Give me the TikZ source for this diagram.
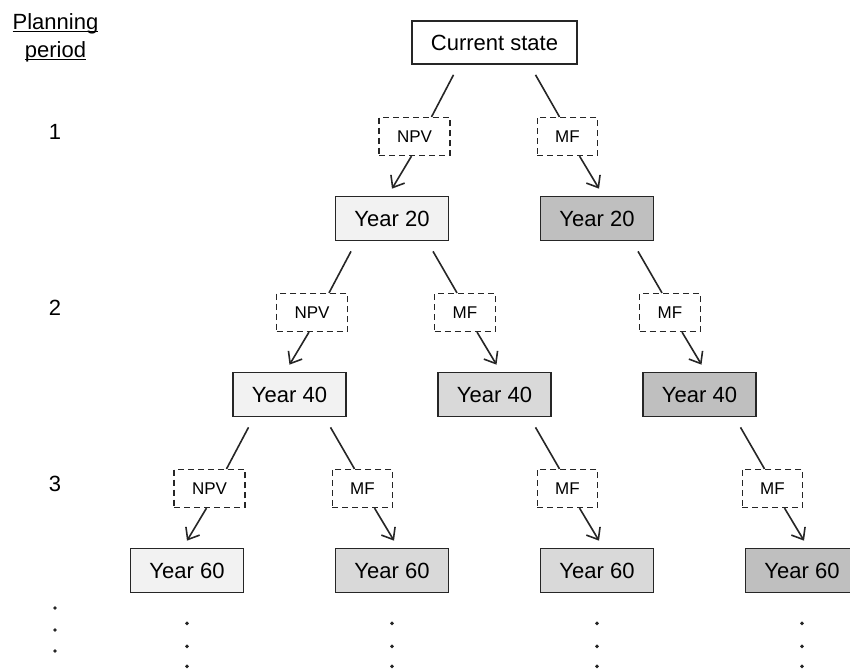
\documentclass[tikz,border=0pt]{standalone}
\usepackage{fontspec}
\setmainfont{Liberation Sans}
\usetikzlibrary{arrows.meta,positioning}
\definecolor{Pale}{HTML}{F2F2F2}
\definecolor{Mid}{HTML}{D9D9D9}
\definecolor{Dark}{HTML}{BFBFBF}
\definecolor{Ink}{HTML}{262626}
\newcommand\tightul[1]{\setbox0\hbox{#1}\rlap{\rule[-1.4pt]{\wd0}{0.7pt}}\box0}

\begin{document}
\begin{tikzpicture}[node distance=88pt and 51.25pt,on grid,
year/.style={draw=Ink,line width=0.85pt,minimum width=56.5pt,minimum height=22pt,inner sep=0pt,font=\fontsize{11}{13}\selectfont},
lbl/.style={draw=Ink,dash pattern=on 3pt off 2pt,line width=0.6pt,minimum height=19pt,inner xsep=9pt,inner ysep=0pt,font=\fontsize{8.5}{10}\selectfont},
ln/.style={draw=Ink,line width=0.8pt},
arr/.style={-{Straight Barb[length=5pt,width=8pt]},line width=0.8pt,draw=Ink},
dot/.style={fill=Ink}]
\useasboundingbox (0,0) rectangle (425pt,-335.5pt);
% planning periods
\node[align=center,font=\fontsize{11}{14}\selectfont] (plan) at (27.75pt,-19pt) {\tightul{Planning}\\\tightul{period}};
\node[font=\fontsize{11}{13}\selectfont] (p1) at (27.5pt,-66pt) {1};
\node[font=\fontsize{11}{13}\selectfont,below=of p1] (p2) {2};
\node[font=\fontsize{11}{13}\selectfont,below=of p2] (p3) {3};
% states
\node[year,minimum width=82.5pt,minimum height=21.5pt] (cur) at (247.25pt,-21.25pt) {Current state};
\node[year,fill=Pale,below left=of cur] (a1) {Year 20};
\node[year,fill=Dark,below right=of cur] (b1) {Year 20};
\node[year,fill=Pale,below left=of a1] (a2) {Year 40};
\node[year,fill=Mid,below right=of a1] (c2) {Year 40};
\node[year,fill=Dark,below right=of b1] (b2) {Year 40};
\node[year,fill=Pale,below left=of a2] (a3) {Year 60};
\node[year,fill=Mid,below right=of a2] (d3) {Year 60};
\node[year,fill=Mid,below right=of c2] (c3) {Year 60};
\node[year,fill=Dark,below right=of b2] (b3) {Year 60};
% management choices
\node[lbl,below left=47pt and 40pt of cur] (npv1) {NPV};
\node[lbl,below right=47pt and 36.5pt of cur] (mf1) {MF};
\node[lbl,below left=47pt and 40pt of a1] (npv2) {NPV};
\node[lbl,below right=47pt and 36.5pt of a1] (mf2) {MF};
\node[lbl,below right=47pt and 36.5pt of b1] (mf2b) {MF};
\node[lbl,below left=47pt and 40pt of a2] (npv3) {NPV};
\node[lbl,below right=47pt and 36.5pt of a2] (mf3) {MF};
\node[lbl,below right=47pt and 36.5pt of c2] (mf3c) {MF};
\node[lbl,below right=47pt and 36.5pt of b2] (mf3b) {MF};
% branches
\draw[ln] ([xshift=-20.5pt,yshift=-5pt]cur.south)--([xshift=8.5pt]npv1.north);
\draw[arr] ([xshift=-1.5pt]npv1.south)--([yshift=3.5pt]a1.north);
\draw[ln] ([xshift=20.5pt,yshift=-5pt]cur.south)--([xshift=-4pt]mf1.north);
\draw[arr] ([xshift=6pt]mf1.south)--([xshift=1pt,yshift=3.5pt]b1.north);
\draw[ln] ([xshift=-20.5pt,yshift=-5pt]a1.south)--([xshift=8.5pt]npv2.north);
\draw[arr] ([xshift=-1.5pt]npv2.south)--([yshift=3.5pt]a2.north);
\draw[ln] ([xshift=20.5pt,yshift=-5pt]a1.south)--([xshift=-4pt]mf2.north);
\draw[arr] ([xshift=6pt]mf2.south)--([xshift=1pt,yshift=3.5pt]c2.north);
\draw[ln] ([xshift=20.5pt,yshift=-5pt]b1.south)--([xshift=-4pt]mf2b.north);
\draw[arr] ([xshift=6pt]mf2b.south)--([xshift=1pt,yshift=3.5pt]b2.north);
\draw[ln] ([xshift=-20.5pt,yshift=-5pt]a2.south)--([xshift=8.5pt]npv3.north);
\draw[arr] ([xshift=-1.5pt]npv3.south)--([yshift=3.5pt]a3.north);
\draw[ln] ([xshift=20.5pt,yshift=-5pt]a2.south)--([xshift=-4pt]mf3.north);
\draw[arr] ([xshift=6pt]mf3.south)--([xshift=1pt,yshift=3.5pt]d3.north);
\draw[ln] ([xshift=20.5pt,yshift=-5pt]c2.south)--([xshift=-4pt]mf3c.north);
\draw[arr] ([xshift=6pt]mf3c.south)--([xshift=1pt,yshift=3.5pt]c3.north);
\draw[ln] ([xshift=20.5pt,yshift=-5pt]b2.south)--([xshift=-4pt]mf3b.north);
\draw[arr] ([xshift=6pt]mf3b.south)--([xshift=1pt,yshift=3.5pt]b3.north);
% continuation dots
\fill[dot] ([yshift=-62pt]p3.center) circle (0.95pt) ([yshift=-73pt]p3.center) circle (0.95pt) ([yshift=-83.5pt]p3.center) circle (0.95pt);
\fill[dot] ([yshift=-15pt]a3.south) circle (0.95pt) ([yshift=-26.5pt]a3.south) circle (0.95pt) ([yshift=-36.5pt]a3.south) circle (0.95pt);
\fill[dot] ([yshift=-15pt]d3.south) circle (0.95pt) ([yshift=-26.5pt]d3.south) circle (0.95pt) ([yshift=-36.5pt]d3.south) circle (0.95pt);
\fill[dot] ([yshift=-15pt]c3.south) circle (0.95pt) ([yshift=-26.5pt]c3.south) circle (0.95pt) ([yshift=-36.5pt]c3.south) circle (0.95pt);
\fill[dot] ([yshift=-15pt]b3.south) circle (0.95pt) ([yshift=-26.5pt]b3.south) circle (0.95pt) ([yshift=-36.5pt]b3.south) circle (0.95pt);
\end{tikzpicture}
\end{document}
